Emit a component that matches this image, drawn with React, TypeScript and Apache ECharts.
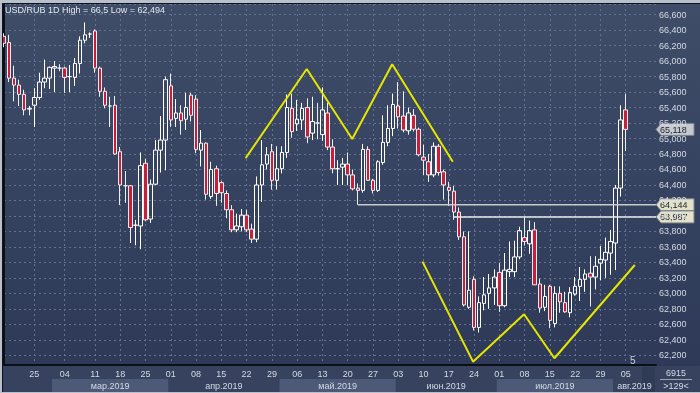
import React, { useEffect, useRef } from 'react';
import * as echarts from 'echarts';

// ---- data ----
const dates: string[] = [
  '2019-02-19', '2019-02-20', '2019-02-21', '2019-02-22', '2019-02-23', '2019-02-24',
  '2019-02-25', '2019-02-26', '2019-02-27', '2019-02-28', '2019-03-01', '2019-03-03',
  '2019-03-04', '2019-03-05', '2019-03-06', '2019-03-07', '2019-03-08', '2019-03-10',
  '2019-03-11', '2019-03-12', '2019-03-13', '2019-03-14', '2019-03-15',
  '2019-03-18', '2019-03-19', '2019-03-20', '2019-03-21', '2019-03-22',
  '2019-03-25', '2019-03-26', '2019-03-27', '2019-03-28', '2019-03-29',
  '2019-04-01', '2019-04-02', '2019-04-03', '2019-04-04', '2019-04-05',
  '2019-04-08', '2019-04-09', '2019-04-10', '2019-04-11', '2019-04-12',
  '2019-04-15', '2019-04-16', '2019-04-17', '2019-04-18', '2019-04-19',
  '2019-04-22', '2019-04-23', '2019-04-24', '2019-04-25', '2019-04-26',
  '2019-04-29', '2019-04-30', '2019-05-01', '2019-05-02', '2019-05-03',
  '2019-05-06', '2019-05-07', '2019-05-08', '2019-05-09', '2019-05-10',
  '2019-05-13', '2019-05-14', '2019-05-15', '2019-05-16', '2019-05-17',
  '2019-05-20', '2019-05-21', '2019-05-22', '2019-05-23', '2019-05-24',
  '2019-05-27', '2019-05-28', '2019-05-29', '2019-05-30', '2019-05-31',
  '2019-06-03', '2019-06-04', '2019-06-05', '2019-06-06', '2019-06-07',
  '2019-06-10', '2019-06-11', '2019-06-12', '2019-06-13', '2019-06-14',
  '2019-06-17', '2019-06-18', '2019-06-19', '2019-06-20', '2019-06-21',
  '2019-06-24', '2019-06-25', '2019-06-26', '2019-06-27', '2019-06-28',
  '2019-07-01', '2019-07-02', '2019-07-03', '2019-07-04', '2019-07-05',
  '2019-07-08', '2019-07-09', '2019-07-10', '2019-07-11', '2019-07-12',
  '2019-07-15', '2019-07-16', '2019-07-17', '2019-07-18', '2019-07-19',
  '2019-07-22', '2019-07-23', '2019-07-24', '2019-07-25', '2019-07-26',
  '2019-07-29', '2019-07-30', '2019-07-31', '2019-08-01', '2019-08-02',
  '2019-08-05', '2019-08-06', '2019-08-07', '2019-08-08', '2019-08-09',
  '2019-08-12', '2019-08-13',
];

const open: number[] = [
  66.32, 66.24, 65.78, 65.69, 65.57, 65.38, 65.43, 65.53, 65.73, 65.78,
  65.91, 65.91, 65.91, 65.80, 65.79, 65.97, 66.27, 66.35, 66.39, 65.91,
  65.61, 65.42, 65.43, 64.83, 64.39, 64.39, 63.88, 63.87, 64.68, 63.96,
  64.41, 64.85, 64.98, 65.68, 65.26, 65.33, 65.25, 65.56, 65.51, 64.85,
  64.94, 64.25, 64.61, 64.43, 64.29, 64.08, 63.82, 63.86, 64.01, 63.83,
  63.70, 64.40, 64.67, 64.83, 64.46, 64.61, 64.82, 65.39, 65.19, 65.24,
  65.40, 65.07, 65.20, 65.05, 65.33, 64.89, 64.61, 64.63, 64.67, 64.53,
  64.36, 64.33, 64.86, 64.46, 64.33, 64.69, 64.95, 65.13, 65.42, 65.29,
  65.10, 65.30, 65.12, 64.76, 64.70, 64.53, 64.90, 64.57, 64.37, 64.32,
  64.05, 63.73, 62.82, 63.18, 62.56, 62.87, 63.00, 63.07, 63.27, 62.84,
  63.28, 63.28, 63.47, 63.72, 63.64, 63.82, 63.12, 62.82, 63.09, 62.61,
  63.00, 62.88, 62.75, 62.99, 63.09, 63.18, 63.26, 63.21, 63.39, 63.43,
  63.52, 63.65, 64.36, 65.37,
];
const close: number[] = [
  66.23, 65.78, 65.69, 65.57, 65.37, 65.39, 65.53, 65.73, 65.78, 65.92,
  65.93, 65.91, 65.79, 65.80, 65.97, 66.27, 66.34, 66.35, 65.91, 65.61,
  65.43, 65.42, 64.80, 64.40, 64.39, 63.85, 63.88, 64.65, 63.95, 64.41,
  64.85, 64.98, 65.76, 65.24, 65.33, 65.23, 65.40, 65.30, 64.86, 64.94,
  64.28, 64.60, 64.29, 64.30, 64.08, 63.82, 63.87, 64.01, 63.82, 63.70,
  64.40, 64.66, 64.79, 64.46, 64.61, 64.82, 65.40, 65.09, 65.25, 65.39,
  65.02, 65.22, 65.20, 65.37, 64.89, 64.61, 64.61, 64.67, 64.53, 64.35,
  64.33, 64.86, 64.46, 64.33, 64.70, 64.95, 65.13, 65.44, 65.28, 65.11,
  65.33, 65.12, 64.79, 64.72, 64.53, 64.90, 64.56, 64.40, 64.33, 64.05,
  63.73, 62.85, 63.04, 62.56, 62.88, 62.98, 63.07, 63.21, 62.84, 63.30,
  63.31, 63.47, 63.81, 63.67, 63.81, 63.11, 62.81, 62.96, 62.65, 63.00,
  62.89, 62.76, 63.01, 63.09, 63.18, 63.25, 63.21, 63.35, 63.44, 63.53,
  63.67, 64.36, 65.24, 65.118,
];
const low: number[] = [
  66.18, 65.73, 65.48, 65.42, 65.30, 65.30, 65.15, 65.50, 65.65, 65.64,
  65.60, 65.87, 65.59, 65.60, 65.68, 65.84, 66.23, 66.30, 65.85, 65.54,
  65.39, 65.15, 64.79, 64.14, 64.17, 63.65, 63.62, 63.57, 63.93, 63.91,
  64.40, 64.56, 64.59, 65.15, 65.15, 65.05, 65.11, 65.22, 64.81, 64.64,
  64.21, 64.22, 64.13, 64.17, 63.97, 63.79, 63.79, 63.80, 63.79, 63.65,
  63.66, 64.18, 64.60, 64.34, 64.34, 64.55, 64.75, 65.01, 65.10, 65.11,
  64.94, 64.98, 64.99, 64.97, 64.85, 64.55, 64.40, 64.40, 64.40, 64.33,
  64.144, 64.30, 64.46, 64.29, 64.31, 64.66, 64.90, 65.03, 65.13, 65.08,
  65.05, 65.09, 64.77, 64.53, 64.44, 64.50, 64.52, 64.21, 64.13, 63.95,
  63.69, 62.83, 62.80, 62.52, 62.494, 62.78, 62.80, 62.85, 62.76, 62.82,
  63.21, 63.21, 63.44, 63.62, 63.51, 63.11, 62.75, 62.77, 62.55, 62.56,
  62.75, 62.75, 62.69, 62.97, 62.90, 63.02, 62.83, 63.05, 63.17, 63.20,
  63.24, 63.30, 64.25, 64.84,
];
const high: number[] = [
  66.36, 66.34, 65.94, 65.76, 65.63, 65.42, 65.65, 65.85, 66.02, 65.93,
  66.00, 65.96, 65.93, 65.95, 66.04, 66.32, 66.50, 66.37, 66.41, 65.93,
  65.66, 65.54, 65.55, 64.89, 64.58, 64.40, 63.95, 64.82, 64.74, 64.47,
  64.98, 65.29, 65.80, 65.84, 65.51, 65.43, 65.59, 65.59, 65.56, 65.11,
  64.95, 64.70, 64.65, 64.45, 64.33, 64.14, 64.03, 64.09, 64.08, 63.90,
  64.51, 64.98, 64.89, 64.93, 64.90, 64.90, 65.57, 65.58, 65.50, 65.46,
  65.52, 65.54, 65.46, 65.66, 65.46, 64.99, 64.72, 64.75, 64.82, 64.60,
  64.42, 64.93, 64.90, 64.48, 64.72, 65.30, 65.43, 65.58, 65.73, 65.61,
  65.40, 65.38, 65.14, 64.92, 64.80, 64.95, 64.93, 64.60, 64.44, 64.39,
  64.11, 63.80, 63.80, 63.22, 62.96, 63.21, 63.25, 63.31, 63.39, 63.52,
  63.67, 63.68, 63.86, 63.98, 63.94, 63.92, 63.19, 63.11, 63.11, 63.09,
  63.09, 63.02, 63.08, 63.21, 63.34, 63.31, 63.48, 63.48, 63.61, 63.72,
  63.82, 64.40, 65.43, 65.58,
];

// horizontal levels and where they start (bar index)
const levels: number[] = [64.144, 63.987];
const levelStart: number[] = [70, 89];

// drawn patterns (bar position, price)
const topPatternX: number[] = [47.8, 59.9, 68.9, 76.8, 88.8];
const topPatternY: number[] = [64.745, 65.898, 64.994, 65.959, 64.701];
const bottomPatternX: number[] = [82.8, 92.8, 102.9, 108.9, 124.8];
const bottomPatternY: number[] = [63.409, 62.117, 62.729, 62.161, 63.366];

const monthNames: string[] = ['янв', 'фев', 'мар', 'апр', 'май', 'июн', 'июл', 'авг', 'сен', 'окт', 'ноя', 'дек'];
const titleText = 'USD/RUB 1D High = 66,5 Low = 62,494';

const FONT = 'Liberation Sans, Arial, sans-serif';
const fmt = (v: number) => v.toFixed(3).replace('.', ',');

export default function App() {
  const ref = useRef<HTMLDivElement>(null);

  useEffect(() => {
    const chart = echarts.init(ref.current!, null, { renderer: 'svg' });
    const n = open.length;
    const lastIdx = dates.length - 1;

    const candles = dates.map((_, i) =>
      i < n ? [open[i], close[i], low[i], high[i]] : '-'
    );
    const isLabelDay = (index: number) =>
      index < n && new Date(dates[index] + 'T00:00:00Z').getUTCDay() === 1;

    // month bands
    const starts: { idx: number; m: number }[] = [];
    dates.forEach((d, i) => {
      const m = +d.slice(5, 7);
      if (i === 0 || m !== +dates[i - 1].slice(5, 7)) starts.push({ idx: i, m });
    });
    const bands = starts.map((s, k) => {
      const a = k === 0 ? 0 : s.idx - 0.5;
      const b = k + 1 < starts.length ? starts[k + 1].idx - 0.5 : lastIdx;
      return [
        {
          xAxis: a,
          itemStyle: { color: s.m % 2 === 1 ? '#4c5a77' : 'rgba(0,0,0,0)' },
          label: {
            show: k > 0,
            position: 'inside',
            formatter: monthNames[s.m - 1] + '.2019',
            color: '#d4d9e3',
            fontSize: 9,
            fontFamily: FONT,
          },
        },
        { xAxis: b },
      ];
    });

    const option: any = {
      animation: false,
      grid: [
        { left: 4, right: 44, top: 4, bottom: 28 },
        { left: 4, right: 44, top: 379, height: 13 },
      ],
      xAxis: [
        {
          type: 'category',
          data: dates,
          boundaryGap: false,
          gridIndex: 0,
          axisLine: { show: true, lineStyle: { color: '#0c0f16', width: 2 } },
          axisTick: { show: false },
          axisLabel: {
            interval: (index: number) => isLabelDay(index),
            formatter: (v: string) => v.slice(8, 10),
            color: '#d4d9e3',
            fontSize: 9,
            fontFamily: FONT,
            margin: 4,
          },
          splitLine: {
            show: true,
            interval: (index: number) => isLabelDay(index),
            lineStyle: { color: '#63738f', type: [2, 3], width: 1 },
          },
        },
        { type: 'value', min: 0, max: lastIdx, gridIndex: 0, show: false },
        { type: 'value', min: 0, max: lastIdx, gridIndex: 1, show: false },
      ],
      yAxis: [
        {
          type: 'value',
          position: 'right',
          gridIndex: 0,
          min: 62.074,
          max: 66.738,
          splitNumber: 23,
          minInterval: 0.2,
          maxInterval: 0.2,
          axisLine: { show: true, lineStyle: { color: '#0c0f16', width: 2 } },
          axisTick: { show: false },
          axisLabel: {
            formatter: (v: number) => fmt(v),
            showMinLabel: false,
            showMaxLabel: false,
            color: '#d4d9e3',
            fontSize: 9,
            fontFamily: FONT,
            margin: 3,
          },
          splitLine: {
            show: true,
            lineStyle: { color: '#63738f', type: [2, 3], width: 1 },
          },
        },
        { type: 'value', min: 0, max: 1, gridIndex: 1, show: false },
      ],
      series: [
        {
          type: 'candlestick',
          xAxisIndex: 0,
          yAxisIndex: 0,
          data: candles,
          barWidth: 4,
          itemStyle: {
            color: 'rgba(0,0,0,0)',
            color0: '#c81e3c',
            borderColor: '#ffffff',
            borderColor0: '#eeeeee',
            borderWidth: 1,
          },
          z: 3,
        },
        ...levels.map((lv, k) => ({
          type: 'line',
          xAxisIndex: 1,
          yAxisIndex: 0,
          data: [[levelStart[k], lv], [lastIdx, lv]],
          showSymbol: false,
          symbol: 'none',
          silent: true,
          lineStyle: { color: k === 0 ? '#c9c9c9' : '#ececec', width: 1.5 },
          z: 4,
        })),
        {
          type: 'line',
          xAxisIndex: 1,
          yAxisIndex: 0,
          data: topPatternX.map((x, i) => [x, topPatternY[i]]),
          symbol: 'none',
          silent: true,
          lineStyle: { color: '#e6e600', width: 2 },
          z: 5,
        },
        {
          type: 'line',
          xAxisIndex: 1,
          yAxisIndex: 0,
          data: bottomPatternX.map((x, i) => [x, bottomPatternY[i]]),
          symbol: 'none',
          silent: true,
          lineStyle: { color: '#e6e600', width: 2 },
          z: 5,
        },
        {
          type: 'line',
          xAxisIndex: 2,
          yAxisIndex: 1,
          data: [[0, 0.5]],
          symbol: 'none',
          silent: true,
          lineStyle: { opacity: 0 },
          markArea: { silent: true, data: bands },
        },
      ],
    };
    chart.setOption(option);

    const tags = [
      { v: close[n - 1], fill: '#c5c9d0' },
      { v: levels[0], fill: '#e3e1c8' },
      { v: levels[1], fill: '#e3e1c8' },
    ];
    const tagGraphics = tags.map((t) => {
      const y = chart.convertToPixel({ yAxisIndex: 0 }, t.v) as number;
      return {
        type: 'group',
        z: 20,
        children: [
          {
            type: 'polygon',
            shape: {
              points: [[656, y], [661, y - 6], [694, y - 6], [694, y + 6], [661, y + 6]],
            },
            style: { fill: t.fill, stroke: '#7c818a', lineWidth: 1 },
          },
          {
            type: 'text',
            x: 660,
            y: y + 0.5,
            style: {
              text: fmt(t.v),
              fill: '#20242c',
              font: '9px ' + FONT,
              textVerticalAlign: 'middle',
            },
          },
        ],
      };
    });

    chart.setOption({
      graphic: [
        {
          type: 'rect',
          z: -100,
          shape: { x: 0, y: 0, width: 700, height: 393 },
          style: {
            fill: new echarts.graphic.LinearGradient(0, 0, 0, 1, [
              { offset: 0, color: '#3f4d69' },
              { offset: 1, color: '#2c3856' },
            ]),
          },
        },
        { type: 'rect', z: -90, shape: { x: 0, y: 366, width: 700, height: 27 }, style: { fill: '#36425e' } },
        // scroll block behind the month labels
        { type: 'rect', z: -80, shape: { x: 642, y: 367, width: 13, height: 25 }, style: { fill: '#2f3a54' } },
        // frame
        { type: 'rect', z: 30, shape: { x: 0, y: 0, width: 700, height: 3 }, style: { fill: '#b8c0ce' } },
        { type: 'rect', z: 30, shape: { x: 0, y: 3, width: 700, height: 1 }, style: { fill: '#10131a' } },
        { type: 'rect', z: 30, shape: { x: 0, y: 0, width: 2, height: 393 }, style: { fill: '#b8c0ce' } },
        { type: 'rect', z: 30, shape: { x: 2, y: 3, width: 1, height: 390 }, style: { fill: '#10131a' } },
        { type: 'rect', z: 30, shape: { x: 0, y: 392, width: 700, height: 1 }, style: { fill: '#b8c0ce' } },
        // bottom-right box
        { type: 'line', z: 30, shape: { x1: 660, y1: 379.5, x2: 692, y2: 379.5 }, style: { stroke: '#9aa3b3', lineWidth: 1 } },
        {
          type: 'text', z: 30, x: 676, y: 372.5,
          style: { text: '6915', fill: '#d4d9e3', font: '9px ' + FONT, textAlign: 'center', textVerticalAlign: 'middle' },
        },
        {
          type: 'text', z: 30, x: 676, y: 386,
          style: { text: '>129<', fill: '#d4d9e3', font: '9px ' + FONT, textAlign: 'center', textVerticalAlign: 'middle' },
        },
        // title
        {
          type: 'text', z: 30, x: 5, y: 10,
          style: { text: titleText, fill: '#e4e8ef', font: '9px ' + FONT, textVerticalAlign: 'middle' },
        },
        // event marker
        {
          type: 'text', z: 30, x: 630, y: 360,
          style: { text: '5', fill: '#c8d0de', font: '10px ' + FONT, textVerticalAlign: 'middle' },
        },
        ...tagGraphics,
      ],
    });

    return () => chart.dispose();
  }, []);

  return (
    <div
      ref={ref}
      style={{ position: 'fixed', left: 0, top: 0, width: 700, height: 393 }}
    />
  );
}
